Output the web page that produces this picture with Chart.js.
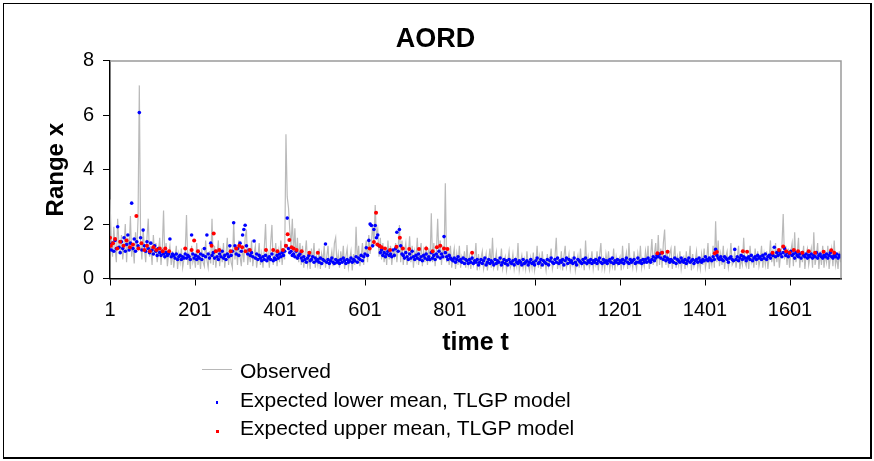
<!DOCTYPE html>
<html>
<head>
<meta charset="utf-8">
<script src="https://cdn.jsdelivr.net/npm/chart.js@4/dist/chart.umd.min.js"></script>
<style>
  body { margin: 0; background: #fff; }
  #wrap { position: relative; width: 874px; height: 461px; overflow: hidden; }
  #frame { position: absolute; left: 3px; top: 3px; width: 866px; height: 453px; border: 1px solid #000; border-right-width: 2px; border-bottom-width: 2px; pointer-events: none; }
  .leg { position: absolute; left: 240px; font: 21px "Liberation Sans", Arial, sans-serif; color: #000; white-space: nowrap; }
  .mark { position: absolute; }
</style>
</head>
<body>
<div id="wrap">
  <canvas id="chart" width="874" height="461"></canvas>
  <div id="frame"></div>
  <div class="mark" style="left:202px;top:369px;width:30px;height:1px;background:#b8b8b8"></div>
  <div class="leg" style="top:359px">Observed</div>
  <div class="mark" style="left:216px;top:401px;width:2px;height:3px;background:#0000ff"></div>
  <div class="leg" style="top:388px">Expected lower mean, TLGP model</div>
  <div class="mark" style="left:216px;top:430px;width:3px;height:3px;background:#ff0000"></div>
  <div class="leg" style="top:416px">Expected upper mean, TLGP model</div>
</div>
<script>
// observed range, one value every 3 steps starting at t = 1
const obsStart = 1;
const obsStep = 3;
const observed = [
  2.9, 1.4, 0.8, 1.9, 1.1, 0.6, 2.2, 1.3, 0.9, 1.6,
  0.7, 1.2, 2.0, 0.6, 1.5, 1.0, 2.3, 0.8, 1.3, 0.55,
  1.7, 1.0, 2.2, 7.1, 1.4, 0.7, 1.8, 1.1, 0.6, 1.5,
  2.2, 0.8, 1.2, 0.5, 1.6, 0.9, 1.3, 0.6, 1.0, 1.5,
  0.5, 1.1, 2.5, 0.7, 1.3, 0.45, 0.9, 1.2, 0.5, 1.0,
  0.4, 0.8, 1.2, 0.35, 0.9, 0.6, 1.1, 0.4, 0.7, 1.0,
  2.33, 0.5, 0.9, 0.35, 1.2, 0.6, 0.8, 0.4, 1.3, 0.5,
  0.9, 0.35, 1.1, 0.6, 0.45, 1.4, 0.7, 0.4, 1.0, 0.55,
  2.2, 0.5, 1.2, 0.4, 0.9, 1.4, 0.45, 1.0, 0.6, 1.3,
  0.4, 0.9, 1.5, 0.5, 1.1, 0.6, 0.4, 2.1, 0.7, 1.2,
  0.5, 1.4, 0.8, 0.45, 1.2, 0.6, 1.5, 1.8, 0.5, 1.0,
  0.6, 1.4, 0.45, 0.9, 1.2, 0.4, 0.8, 1.3, 0.5, 0.9,
  0.4, 1.1, 2.0, 0.6, 0.9, 0.4, 1.3, 1.97, 0.5, 0.8,
  1.3, 0.45, 1.0, 0.6, 1.4, 0.5, 1.1, 0.7, 5.3, 3.0,
  2.6, 1.8, 1.2, 2.2, 0.9, 1.85, 0.7, 1.5, 0.6, 1.3,
  0.5, 1.2, 0.4, 0.9, 1.4, 0.5, 0.8, 0.35, 1.1, 0.6,
  1.3, 0.4, 0.8, 0.5, 1.1, 0.35, 0.9, 0.6, 1.2, 0.4,
  0.8, 1.2, 0.35, 0.7, 1.0, 0.45, 1.3, 1.5, 0.5, 0.9,
  0.4, 1.0, 0.6, 1.2, 0.35, 0.8, 1.1, 0.4, 0.7, 1.0,
  0.3, 0.9, 0.5, 1.9, 0.6, 1.2, 0.45, 0.8, 1.3, 0.5,
  1.0, 1.4, 0.6, 1.6, 0.9, 1.3, 2.0, 1.2, 2.7, 1.5,
  1.8, 0.8, 1.5, 0.7, 1.3, 0.6, 1.1, 0.5, 1.4, 0.7,
  1.2, 0.5, 1.0, 0.8, 1.3, 0.6, 1.1, 1.97, 0.6, 1.4,
  0.5, 1.0, 1.3, 0.5, 0.9, 1.55, 0.6, 1.2, 0.4, 1.0,
  0.7, 1.5, 0.5, 0.9, 1.3, 0.45, 1.0, 0.6, 1.2, 0.5,
  1.1, 0.6, 2.4, 0.6, 1.3, 0.45, 1.0, 2.2, 0.8, 1.4,
  0.5, 1.2, 0.7, 3.5, 0.6, 1.0, 0.5, 1.2, 0.4, 0.8,
  1.1, 0.35, 0.9, 0.5, 1.2, 0.4, 0.8, 0.6, 1.0, 0.4,
  1.23, 0.5, 0.8, 0.35, 1.0, 0.5, 0.7, 1.3, 0.3, 0.9,
  0.45, 0.75, 1.0, 0.35, 0.6, 0.9, 0.3, 0.7, 1.1, 0.4,
  1.5, 0.4, 0.6, 0.95, 0.3, 0.7, 0.5, 1.1, 0.35, 0.6,
  0.8, 0.3, 0.65, 1.0, 0.4, 0.55, 0.9, 0.35, 0.7, 0.45,
  1.3, 0.3, 0.6, 0.85, 0.4, 0.7, 0.35, 1.0, 0.5, 0.3,
  0.75, 0.4, 0.95, 0.3, 0.6, 1.2, 0.4, 0.8, 0.35, 1.0,
  0.5, 0.65, 0.3, 0.9, 0.45, 0.7, 1.1, 0.35, 0.6, 0.8,
  1.5, 0.35, 0.7, 0.45, 1.0, 0.3, 0.8, 1.2, 0.4, 0.6,
  0.9, 0.35, 0.7, 0.5, 1.0, 0.3, 0.6, 0.85, 0.4, 1.1,
  0.5, 0.7, 0.3, 1.4, 0.45, 0.8, 0.4, 0.6, 1.0, 0.35,
  0.7, 0.5, 1.0, 0.3, 0.85, 1.3, 0.4, 0.7, 0.35, 0.9,
  0.55, 1.0, 0.35, 0.7, 0.45, 1.1, 0.3, 0.8, 0.5, 0.65,
  0.8, 0.3, 1.2, 0.45, 0.65, 0.95, 0.35, 1.3, 0.5, 0.7,
  0.4, 1.0, 0.6, 0.35, 0.9, 0.5, 1.2, 0.4, 0.7, 0.45,
  1.0, 0.6, 1.2, 0.35, 0.8, 1.45, 0.5, 0.9, 1.3, 0.45,
  1.6, 0.5, 1.1, 0.4, 1.3, 1.8, 0.5, 1.0, 0.4, 0.9,
  1.1, 0.35, 0.75, 1.2, 0.4, 0.8, 0.5, 1.0, 0.35, 0.7,
  0.8, 0.35, 1.0, 0.5, 0.7, 1.2, 0.3, 0.9, 0.45, 0.65,
  1.0, 0.4, 0.7, 0.35, 0.9, 0.5, 1.1, 0.4, 0.7, 1.3,
  0.35, 0.8, 0.5, 1.2, 0.4, 2.1, 0.6, 1.4, 0.45, 0.9,
  0.5, 1.2, 0.35, 0.8, 1.0, 0.4, 0.7, 1.3, 0.5, 0.6,
  1.0, 0.4, 0.8, 1.2, 0.35, 0.7, 0.5, 1.5, 0.6, 0.45,
  0.9, 0.35, 1.2, 0.6, 0.8, 0.4, 1.1, 0.5, 1.0, 0.45,
  0.7, 1.2, 0.4, 0.9, 0.5, 1.0, 0.35, 0.8, 1.4, 0.6,
  1.0, 0.45, 1.3, 0.6, 1.1, 0.4, 0.9, 1.2, 2.37, 0.7,
  1.2, 0.5, 1.1, 0.4, 1.0, 1.3, 0.45, 1.7, 0.6, 0.9,
  1.5, 0.4, 1.0, 0.6, 1.2, 0.35, 0.9, 1.1, 0.5, 0.8,
  1.1, 0.4, 1.7, 0.5, 0.8, 1.3, 0.35, 1.0, 0.5, 1.2,
  0.4, 0.9, 0.6, 1.2, 0.35, 0.8, 1.1, 0.45, 1.4, 0.5,
  0.8, 0.35, 1.0, 0.6
];

// expected lower mean, same time grid as observed
const lowerMean = [
  1.25, 1.05, 1.3, 1.0, 1.4, 1.1, 1.9, 1.15, 0.95, 1.35,
  1.1, 1.5, 1.0, 1.25, 1.6, 1.05, 1.3, 2.77, 1.1, 1.45,
  1.0, 1.35, 1.2, 6.1, 1.5, 1.05, 1.78, 1.2, 1.0, 1.35,
  1.1, 0.95, 1.3, 1.05, 0.9, 1.2, 1.0, 0.85, 1.1, 0.95,
  0.85, 1.0, 0.9, 0.8, 0.95, 0.85, 0.9, 1.45, 0.8, 0.9,
  0.85, 0.75, 0.9, 0.7, 0.8, 0.85, 0.7, 0.8, 0.75, 0.9,
  0.75, 0.85, 0.8, 0.7, 1.6, 0.9, 0.75, 0.85, 0.7, 0.8,
  0.75, 0.9, 0.7, 0.85, 1.1, 0.8, 1.6, 0.9, 0.75, 1.3,
  0.85, 0.95, 0.75, 1.0, 0.8, 0.7, 0.9, 0.8, 1.0, 0.75,
  0.85, 0.7, 0.9, 0.8, 1.2, 0.85, 1.0, 2.05, 1.2, 0.9,
  1.1, 0.85, 1.3, 1.0, 1.6, 1.8, 1.96, 1.2, 0.9, 1.05,
  0.85, 0.95, 0.8, 1.38, 0.75, 0.9, 0.7, 0.85, 0.75, 0.65,
  0.8, 0.7, 0.85, 0.65, 0.75, 0.8, 0.7, 0.9, 0.65, 0.75,
  0.7, 0.85, 0.75, 0.9, 0.8, 0.95, 0.85, 1.0, 1.2, 2.22,
  1.1, 0.95, 1.0, 0.85, 0.9, 0.8, 1.0, 0.75, 0.85, 0.9,
  0.75, 0.65, 0.8, 0.7, 0.6, 0.75, 0.85, 0.65, 0.7, 0.8,
  0.6, 0.75, 0.65, 0.7, 0.6, 0.75, 0.55, 0.7, 0.65, 1.27,
  0.6, 0.7, 0.55, 0.65, 0.75, 0.6, 0.55, 0.7, 0.6, 0.65,
  0.55, 0.7, 0.6, 0.75, 0.65, 0.55, 0.7, 0.6, 0.65, 0.75,
  0.6, 0.7, 0.65, 0.8, 0.6, 0.75, 0.7, 0.85, 0.65, 0.8,
  0.9, 1.13, 0.85, 1.4, 2.0, 1.95, 1.2, 1.8, 1.95, 1.5,
  1.6, 1.2, 0.95, 1.05, 0.85, 0.95, 0.8, 0.9, 1.0, 0.85,
  0.9, 0.8, 1.05, 0.85, 1.1, 1.7, 1.0, 1.8, 1.2, 0.9,
  0.85, 0.75, 0.95, 0.8, 0.7, 0.9, 0.75, 1.0, 0.8, 0.7,
  0.85, 0.75, 0.9, 0.7, 0.8, 0.65, 0.85, 0.75, 0.9, 0.7,
  0.8, 0.7, 0.95, 0.75, 0.85, 0.7, 0.9, 0.8, 1.0, 0.75,
  0.9, 0.8, 1.54, 0.95, 0.8, 0.7, 0.85, 0.75, 0.7, 0.65,
  0.75, 0.6, 0.7, 0.8, 0.65, 0.7, 0.6, 0.75, 0.55, 0.7,
  0.65, 0.55, 0.7, 0.6, 0.75, 0.55, 0.65, 0.6, 0.7, 0.5,
  0.6, 0.7, 0.55, 0.65, 0.75, 0.5, 0.6, 0.7, 0.55, 0.65,
  0.6, 0.5, 0.7, 0.55, 0.65, 0.6, 0.75, 0.5, 0.6, 0.7,
  0.55, 0.65, 0.5, 0.7, 0.6, 0.55, 0.65, 0.5, 0.7, 0.6,
  0.55, 0.65, 0.6, 0.5, 0.7, 0.55, 0.6, 0.65, 0.5, 0.6,
  0.7, 0.55, 0.6, 0.5, 0.65, 0.75, 0.55, 0.6, 0.7, 0.5,
  0.65, 0.6, 0.55, 0.7, 0.5, 0.65, 0.75, 0.6, 0.55, 0.7,
  0.6, 0.75, 0.55, 0.65, 0.6, 0.7, 0.5, 0.65, 0.75, 0.55,
  0.7, 0.6, 0.65, 0.55, 0.75, 0.6, 0.5, 0.7, 0.65, 0.6,
  0.55, 0.7, 0.6, 0.75, 0.55, 0.65, 0.6, 0.7, 0.55, 0.65,
  0.6, 0.7, 0.55, 0.65, 0.75, 0.6, 0.55, 0.7, 0.6, 0.65,
  0.55, 0.65, 0.7, 0.6, 0.75, 0.55, 0.65, 0.6, 0.7, 0.55,
  0.65, 0.6, 0.7, 0.55, 0.65, 0.75, 0.6, 0.55, 0.7, 0.6,
  0.65, 0.7, 0.55, 0.6, 0.75, 0.6, 0.65, 0.55, 0.7, 0.6,
  0.7, 0.6, 0.75, 0.65, 0.6, 0.7, 0.8, 0.65, 0.75, 0.85,
  0.8, 0.9, 0.75, 0.95, 0.7, 0.8, 0.65, 0.75, 0.7, 0.6,
  0.7, 0.65, 0.6, 0.75, 0.55, 0.7, 0.65, 0.6, 0.75, 0.65,
  0.6, 0.7, 0.55, 0.65, 0.75, 0.6, 0.65, 0.7, 0.55, 0.65,
  0.7, 0.6, 0.75, 0.65, 0.6, 0.7, 0.65, 0.8, 0.7, 0.65,
  0.75, 0.7, 0.65, 0.8, 0.7, 1.07, 0.85, 0.75, 0.7, 0.8,
  0.7, 0.65, 0.8, 0.75, 0.7, 0.6, 0.75, 0.8, 0.7, 0.65,
  1.07, 0.7, 0.8, 0.65, 0.75, 0.85, 0.7, 0.8, 0.75, 0.65,
  0.75, 0.8, 0.7, 0.85, 0.65, 0.75, 0.8, 0.7, 0.85, 0.75,
  0.8, 0.7, 0.85, 0.75, 0.9, 0.7, 0.8, 0.85, 0.75, 0.9,
  0.85, 1.15, 0.8, 0.95, 0.85, 1.0, 0.9, 0.8, 0.95, 1.1,
  0.85, 0.95, 0.8, 0.9, 1.0, 0.85, 0.9, 0.75, 0.95, 0.85,
  0.8, 0.9, 0.75, 0.95, 0.85, 0.8, 0.9, 0.75, 0.85, 0.8,
  0.9, 0.75, 0.85, 0.8, 0.95, 0.75, 0.85, 0.9, 0.8, 0.75,
  0.85, 0.8, 0.9, 0.75, 0.85, 0.95, 0.8, 0.75, 0.85, 0.8,
  0.9, 0.75, 0.85, 0.8
];

// expected upper mean, only where the high regime is estimated
const upperT = [1, 3, 8, 13, 18, 25, 33, 40, 48, 55, 63, 68, 75, 82, 88, 95, 103, 110, 118, 125,
  131, 140, 178, 193, 199, 208, 240, 245, 250, 258, 285, 298, 305, 312, 320, 330, 368, 385, 395, 408,
  415, 419, 423, 428, 433, 440, 452, 470, 490, 612, 622, 627, 630, 635, 640, 648, 660, 675, 683, 690,
  705, 728, 745, 760, 770, 778, 787, 795, 853, 1289, 1300, 1313, 1424, 1429, 1490, 1500, 1560, 1575, 1585, 1592,
  1600, 1610, 1620, 1630, 1645, 1660, 1680, 1698, 1705];
const upperMean = [1.5, 1.2, 1.3, 1.45, 1.1, 1.35, 1.2, 1.4, 1.15, 1.25, 2.3, 1.1, 1.3, 1.05, 1.2, 1.0, 1.15, 1.05, 1.1, 1.0,
  1.1, 1.0, 1.1, 1.05, 1.4, 1.0, 1.2, 1.65, 1.0, 1.05, 1.0, 1.1, 1.2, 1.15, 1.0, 1.05, 1.05, 1.05, 1.0, 1.05,
  1.2, 1.63, 1.42, 1.15, 1.1, 1.05, 1.0, 0.95, 0.95, 1.1, 1.34, 2.42, 1.25, 1.2, 1.15, 1.1, 1.05, 1.17, 1.5, 1.1,
  1.08, 1.08, 1.1, 1.0, 1.15, 1.2, 1.1, 1.08, 0.95, 0.93, 0.95, 0.98, 0.93, 0.97, 1.0, 0.98, 0.95, 1.05, 1.18, 1.0,
  0.95, 1.05, 1.0, 0.95, 1.0, 0.95, 0.98, 1.04, 0.95];

const xTicks = [1, 201, 401, 601, 801, 1001, 1201, 1401, 1601];
const yTicks = [0, 2, 4, 6, 8];

const gridPts = (vals) => vals.map((v, i) => ({ x: obsStart + i * obsStep, y: v }));

// grey frame on top and right of the plot area
const plotFrame = {
  id: "plotFrame",
  afterDatasetsDraw(chart) {
    const a = chart.chartArea;
    const ctx = chart.ctx;
    ctx.save();
    ctx.strokeStyle = "#9a9a9a";
    ctx.lineWidth = 1.5;
    ctx.beginPath();
    ctx.moveTo(a.left, a.top);
    ctx.lineTo(a.right, a.top);
    ctx.lineTo(a.right, a.bottom);
    ctx.stroke();
    ctx.restore();
  }
};

const ctx = document.getElementById("chart").getContext("2d");
const chart = new Chart(ctx, {
  type: "scatter",
  data: {
    datasets: [
      {
        label: "Expected upper mean, TLGP model",
        data: upperT.map((t, i) => ({ x: t, y: upperMean[i] })),
        backgroundColor: "#ff0000",
        pointRadius: 2,
        pointBorderWidth: 0,
        order: 1
      },
      {
        label: "Expected lower mean, TLGP model",
        data: gridPts(lowerMean),
        backgroundColor: "#0000ff",
        pointRadius: 1.8,
        pointBorderWidth: 0,
        order: 2
      },
      {
        label: "Observed",
        data: gridPts(observed),
        showLine: true,
        borderColor: "#bababa",
        borderWidth: 1.2,
        pointRadius: 0,
        order: 3
      }
    ]
  },
  options: {
    responsive: false,
    animation: false,
    layout: { padding: { left: 30, right: 33, top: 0, bottom: 96 } },
    plugins: {
      legend: { display: false },
      tooltip: { enabled: false },
      title: {
        display: true,
        text: "AORD",
        color: "#000",
        font: { family: "'Liberation Sans', Arial", size: 27, weight: "bold" },
        padding: { top: 23, bottom: 5.5 }
      }
    },
    scales: {
      x: {
        type: "linear",
        min: 1,
        max: 1721,
        afterFit: (s) => { s.height = 86.5; },
        afterBuildTicks: (s) => { s.ticks = xTicks.map((v) => ({ value: v })); },
        grid: { drawOnChartArea: false, tickLength: 7, color: "#000" },
        border: { color: "#000", width: 1.5 },
        ticks: {
          color: "#000",
          padding: 13,
          maxRotation: 0,
          autoSkip: false,
          callback: (v) => String(v),
          font: { family: "'Liberation Sans', Arial", size: 20 }
        },
        title: {
          display: true,
          text: "time t",
          color: "#000",
          font: { family: "'Liberation Sans', Arial", size: 25, weight: "bold" },
          padding: { top: 0, bottom: 7 }
        }
      },
      y: {
        min: 0,
        max: 8,
        afterFit: (s) => { s.width = 80; },
        afterBuildTicks: (s) => { s.ticks = yTicks.map((v) => ({ value: v })); },
        grid: { drawOnChartArea: false, tickLength: 7, color: "#000" },
        border: { color: "#000", width: 1.5 },
        ticks: {
          color: "#000",
          padding: 9,
          font: { family: "'Liberation Sans', Arial", size: 20 }
        },
        title: {
          display: true,
          text: "Range x",
          color: "#000",
          font: { family: "'Liberation Sans', Arial", size: 24, weight: "bold" },
          padding: { top: 11.6, bottom: 0 }
        }
      }
    }
  },
  plugins: [plotFrame]
});
</script>
</body>
</html>
